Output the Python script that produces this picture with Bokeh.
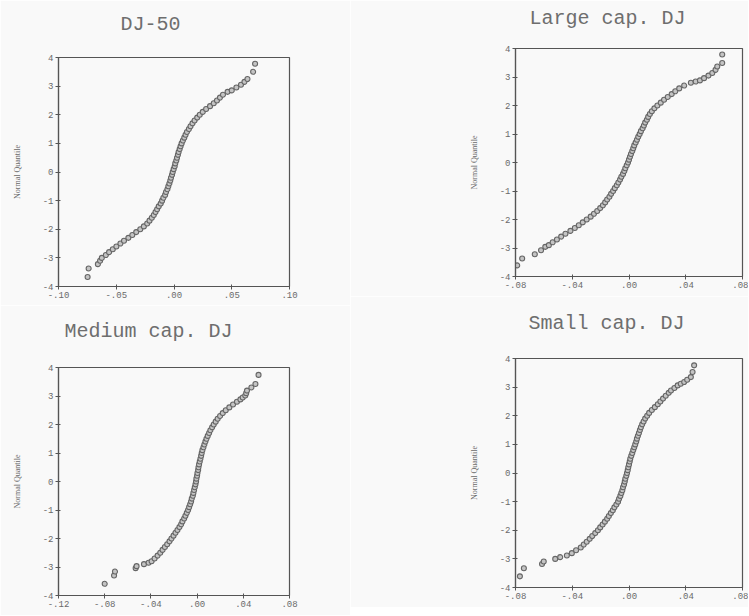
from bokeh.plotting import figure
from bokeh.layouts import column, row
from bokeh.models import FixedTicker, Range1d, Title
from bokeh.embed import file_html
from bokeh.resources import INLINE

# ---------------- data ----------------
titles = ["DJ-50", "Large cap. DJ", "Medium cap. DJ", "Small cap. DJ"]
y_axis_title = "Normal Quantile"

y_ticks = [-4, -3, -2, -1, 0, 1, 2, 3, 4]
y_tick_labels = ["-4", "-3", "-2", "-1", "0", "1", "2", "3", "4"]

dj50_x_ticks = [-0.10, -0.05, 0.0, 0.05, 0.10]
dj50_x_labels = ["-.10", "-.05", ".00", ".05", ".10"]
large_x_ticks = [-0.08, -0.04, 0.0, 0.04, 0.08]
large_x_labels = ["-.08", "-.04", ".00", ".04", ".08"]
medium_x_ticks = [-0.12, -0.08, -0.04, 0.0, 0.04, 0.08]
medium_x_labels = ["-.12", "-.08", "-.04", ".00", ".04", ".08"]
small_x_ticks = [-0.08, -0.04, 0.0, 0.04, 0.08]
small_x_labels = ["-.08", "-.04", ".00", ".04", ".08"]

# normal quantiles of the dense central part (shared by all four panels)
core_quantiles = [-2.8, -2.7, -2.6, -2.5, -2.4, -2.3, -2.2, -2.1, -2.0, -1.9,
                  -1.8, -1.7, -1.6, -1.5, -1.4, -1.3, -1.2, -1.1, -1.0, -0.9,
                  -0.8, -0.7, -0.6, -0.5, -0.4, -0.3, -0.2, -0.1, 0.0, 0.1,
                  0.2, 0.3, 0.4, 0.5, 0.6, 0.7, 0.8, 0.9, 1.0, 1.1,
                  1.2, 1.3, 1.4, 1.5, 1.6, 1.7, 1.8, 1.9, 2.0, 2.1,
                  2.2, 2.3, 2.4, 2.5, 2.6, 2.7, 2.8]

# DJ-50
dj50_low_q = [-3.67, -3.37, -3.22, -3.1, -3.0, -2.9]
dj50_low_r = [-0.0748, -0.0739, -0.0659, -0.0640, -0.0625, -0.0590]
dj50_core_r = [-0.0562, -0.0530, -0.0499, -0.0464, -0.0433, -0.0395, -0.0361, -0.0327, -0.0292, -0.0261,
               -0.0232, -0.0212, -0.0192, -0.0175, -0.0160, -0.0146, -0.0132, -0.0115, -0.0103, -0.0092,
               -0.0077, -0.0069, -0.0057, -0.0049, -0.0040, -0.0032, -0.0026, -0.0017, -0.0011, -0.0003,
               0.0006, 0.0011, 0.0020, 0.0026, 0.0034, 0.0040, 0.0049, 0.0057, 0.0066, 0.0077,
               0.0089, 0.0100, 0.0112, 0.0129, 0.0143, 0.0160, 0.0178, 0.0201, 0.0223, 0.0249,
               0.0278, 0.0312, 0.0344, 0.0372, 0.0398, 0.0424, 0.0464]
dj50_high_q = [2.85, 2.95, 3.05, 3.15, 3.25, 3.5, 3.78]
dj50_high_r = [0.0500, 0.0540, 0.0580, 0.0610, 0.0636, 0.0685, 0.0702]

# Large cap. DJ
large_low_q = [-3.61, -3.37, -3.22, -3.08, -2.96, -2.9]
large_low_r = [-0.0788, -0.0753, -0.0664, -0.0620, -0.0590, -0.0565]
large_core_r = [-0.0538, -0.0508, -0.0478, -0.0448, -0.0413, -0.0382, -0.0354, -0.0326, -0.0298, -0.0270,
                -0.0247, -0.0224, -0.0203, -0.0184, -0.0168, -0.0154, -0.0138, -0.0126, -0.0112, -0.0100,
                -0.0086, -0.0075, -0.0063, -0.0054, -0.0042, -0.0033, -0.0026, -0.0016, -0.0007, 0.0000,
                0.0007, 0.0014, 0.0023, 0.0030, 0.0037, 0.0047, 0.0056, 0.0065, 0.0075, 0.0084,
                0.0096, 0.0105, 0.0114, 0.0126, 0.0135, 0.0147, 0.0161, 0.0179, 0.0200, 0.0224,
                0.0247, 0.0273, 0.0301, 0.0326, 0.0354, 0.0389, 0.0436]
large_high_q = [2.84, 2.88, 2.96, 3.05, 3.14, 3.25, 3.37, 3.49, 3.79]
large_high_r = [0.0470, 0.0500, 0.0529, 0.0560, 0.0587, 0.0610, 0.0622, 0.0657, 0.0657]

# Medium cap. DJ
medium_low_q = [-3.59, -3.30, -3.16, -3.04, -2.97, -2.90, -2.85]
medium_low_r = [-0.0800, -0.0719, -0.0711, -0.0532, -0.0524, -0.0460, -0.0420]
medium_core_r = [-0.0394, -0.0368, -0.0342, -0.0319, -0.0299, -0.0279, -0.0259, -0.0239, -0.0222, -0.0204,
                 -0.0187, -0.0170, -0.0153, -0.0138, -0.0127, -0.0112, -0.0101, -0.0089, -0.0078, -0.0069,
                 -0.0060, -0.0052, -0.0046, -0.0037, -0.0032, -0.0026, -0.0020, -0.0014, -0.0009, -0.0006,
                 0.0000, 0.0003, 0.0009, 0.0012, 0.0017, 0.0023, 0.0029, 0.0035, 0.0040, 0.0046,
                 0.0055, 0.0063, 0.0072, 0.0081, 0.0092, 0.0104, 0.0115, 0.0130, 0.0144, 0.0161,
                 0.0178, 0.0199, 0.0222, 0.0248, 0.0279, 0.0311, 0.0345]
medium_high_q = [2.88, 2.95, 3.02, 3.10, 3.19, 3.30, 3.42, 3.74]
medium_high_r = [0.0375, 0.0395, 0.0417, 0.0425, 0.0432, 0.0470, 0.0505, 0.0532]

# Small cap. DJ
small_low_q = [-3.61, -3.33, -3.18, -3.09, -3.00, -2.94, -2.88]
small_low_r = [-0.0769, -0.0741, -0.0613, -0.0601, -0.0520, -0.0485, -0.0438]
small_core_r = [-0.0403, -0.0373, -0.0340, -0.0319, -0.0298, -0.0277, -0.0259, -0.0238, -0.0219, -0.0203,
                -0.0186, -0.0170, -0.0154, -0.0142, -0.0128, -0.0114, -0.0103, -0.0089, -0.0077, -0.0070,
                -0.0061, -0.0054, -0.0047, -0.0042, -0.0035, -0.0030, -0.0026, -0.0019, -0.0014, -0.0009,
                -0.0005, 0.0000, 0.0005, 0.0009, 0.0016, 0.0023, 0.0030, 0.0037, 0.0044, 0.0051,
                0.0056, 0.0063, 0.0070, 0.0077, 0.0084, 0.0093, 0.0103, 0.0114, 0.0128, 0.0142,
                0.0161, 0.0182, 0.0203, 0.0221, 0.0240, 0.0259, 0.0280]
small_high_q = [2.88, 2.97, 3.06, 3.12, 3.18, 3.26, 3.35, 3.53, 3.76]
small_high_r = [0.0296, 0.0320, 0.0343, 0.0365, 0.0389, 0.0410, 0.0436, 0.0448, 0.0459]

# ---------------- styling ----------------
INK = "#555555"
TEXT = "#6a6a6a"
BG = "#f9f9f9"
MONO = "Liberation Mono"


def make_panel(title, returns, quantiles, x_ticks, x_labels, width, height,
               b_left, b_right, b_top, b_bottom, title_dx, title_gap):
    p = figure(width=width, height=height,
               x_range=Range1d(x_ticks[0], x_ticks[-1]),
               y_range=Range1d(y_ticks[0], y_ticks[-1]),
               output_backend="svg", toolbar_location=None,
               min_border_left=b_left, min_border_right=b_right,
               min_border_top=b_top, min_border_bottom=b_bottom)
    p.background_fill_color = BG
    p.border_fill_color = BG
    p.outline_line_color = INK
    p.outline_line_width = 1.2
    p.xgrid.visible = False
    p.ygrid.visible = False

    p.xaxis.ticker = FixedTicker(ticks=x_ticks)
    p.xaxis.major_label_overrides = dict(zip(x_ticks, x_labels))
    p.yaxis.ticker = FixedTicker(ticks=y_ticks)
    p.yaxis.major_label_overrides = dict(zip(y_ticks, y_tick_labels))
    for ax in (p.xaxis[0], p.yaxis[0]):
        ax.axis_line_color = INK
        ax.axis_line_width = 1.2
        ax.major_tick_line_color = INK
        ax.major_tick_out = 3
        ax.major_tick_in = 2
        ax.minor_tick_line_color = None
        ax.major_label_text_font = MONO
        ax.major_label_text_font_size = "9px"
        ax.major_label_text_color = TEXT
        ax.major_label_standoff = 2
    p.yaxis.axis_label = y_axis_title
    p.yaxis.axis_label_text_font = "Liberation Serif"
    p.yaxis.axis_label_text_font_size = "8px"
    p.yaxis.axis_label_text_font_style = "normal"
    p.yaxis.axis_label_text_color = TEXT
    p.yaxis.axis_label_standoff = 18

    p.scatter(x=returns, y=quantiles, marker="circle", size=5,
              fill_color="#c4c4c4", line_color="#666666", line_width=1.1)

    # spacer panel between frame and title, then the title itself
    p.add_layout(Title(text=" ", text_font=MONO, text_font_size="10px",
                       standoff=title_gap), "above")
    p.add_layout(Title(text=title, text_font=MONO, text_font_size="20px",
                       text_font_style="normal", text_color="#6e6e6e",
                       align="left", offset=title_dx, standoff=0), "above")
    return p


# left column: DJ-50 over Medium cap.; right column: Large cap. over Small cap.
p1 = make_panel(titles[0], dj50_low_r + dj50_core_r + dj50_high_r,
                dj50_low_q + core_quantiles + dj50_high_q,
                dj50_x_ticks, dj50_x_labels, 350, 305, 58, 61, 57, 19, 62, 9)
p3 = make_panel(titles[2], medium_low_r + medium_core_r + medium_high_r,
                medium_low_q + core_quantiles + medium_high_q,
                medium_x_ticks, medium_x_labels, 350, 310, 58, 61, 62, 20, 6, 12)
p2 = make_panel(titles[1], large_low_r + large_core_r + large_high_r,
                large_low_q + core_quantiles + large_high_q,
                large_x_ticks, large_x_labels, 398, 296, 165, 6, 48, 20, 14, 6)
p4 = make_panel(titles[3], small_low_r + small_core_r + small_high_r,
                small_low_q + core_quantiles + small_high_q,
                small_x_ticks, small_x_labels, 398, 311, 165, 6, 62, 20, 13, 11)

layout = row(column(p1, p3, spacing=0), column(p2, p4, spacing=0), spacing=0)
open("out.html", "w").write(file_html(layout, INLINE))
